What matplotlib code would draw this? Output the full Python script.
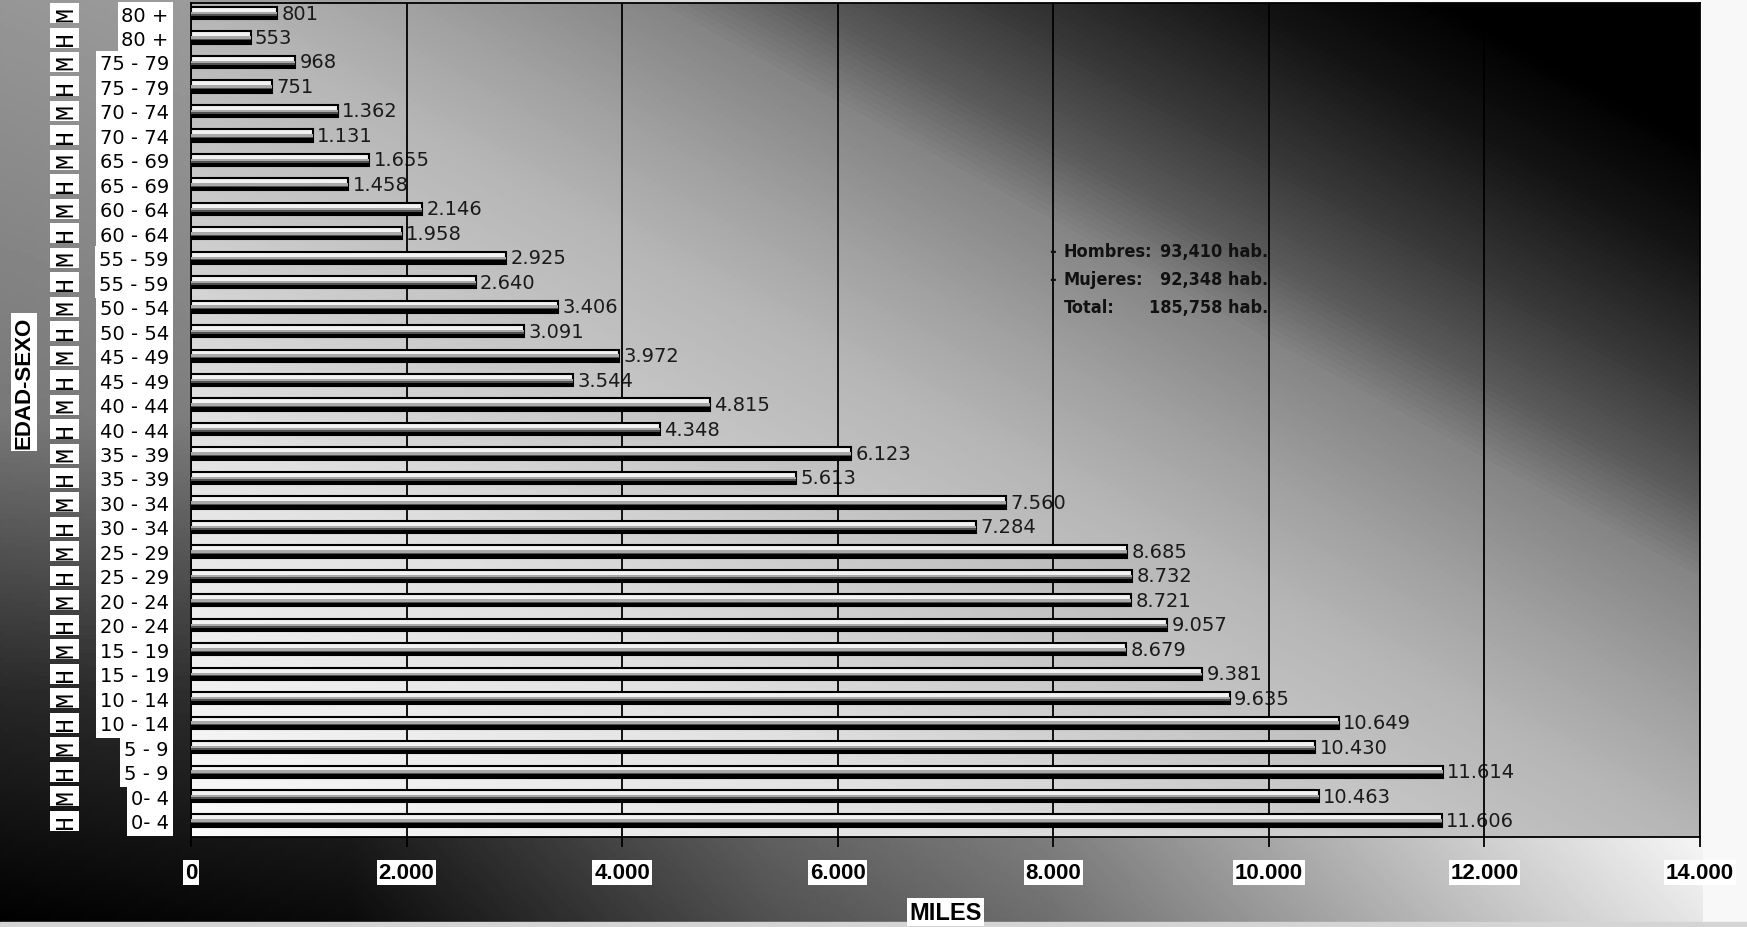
import numpy as np
import matplotlib
matplotlib.use("Agg")
import matplotlib.pyplot as plt
import matplotlib.transforms as mtransforms
from matplotlib import font_manager
from matplotlib.colors import LinearSegmentedColormap

plt.rcParams["font.family"] = ["Liberation Sans", "DejaVu Sans"]

# fuente estrecha para el cuadro resumen, si existe
_fonts = font_manager.fontManager.ttflist
if any(f.name == "Liberation Sans Narrow" for f in _fonts):
    RES_FONT = dict(family="Liberation Sans Narrow", fontsize=17)
elif any(f.name == "DejaVu Sans" and str(f.stretch) == "condensed" and f.weight in (700, "bold") for f in _fonts):
    RES_FONT = dict(family="DejaVu Sans", fontstretch="condensed", fontsize=13)
else:
    RES_FONT = dict(family="Liberation Sans", fontsize=13)

# datos (de 0-4 hacia 80+)
grupos = ["0- 4", "5 - 9", "10 - 14", "15 - 19", "20 - 24", "25 - 29", "30 - 34", "35 - 39",
          "40 - 44", "45 - 49", "50 - 54", "55 - 59", "60 - 64", "65 - 69", "70 - 74",
          "75 - 79", "80 +"]
hombres = [11606, 11614, 10649, 9381, 9057, 8732, 7284, 5613, 4348, 3544, 3091, 2640,
           1958, 1458, 1131, 751, 553]
mujeres = [10463, 10430, 9635, 8679, 8721, 8685, 7560, 6123, 4815, 3972, 3406, 2925,
           2146, 1655, 1362, 968, 801]
resumen_lbl = ["Hombres:", "Mujeres:", "Total:"]
resumen_val = ["93,410 hab.", "92,348 hab.", "185,758 hab."]
xticks = [0, 2000, 4000, 6000, 8000, 10000, 12000, 14000]

etiquetas, sexo, valores = [], [], []
for g, h, m in zip(grupos, hombres, mujeres):
    etiquetas += [g, g]
    sexo += ["H", "M"]
    valores += [h, m]
y = np.arange(len(valores))


def miles(v):
    return f"{v:,}".replace(",", ".")


W, H = 1747, 928
fig = plt.figure(figsize=(W / 100, H / 100), dpi=100)

# fondo de la figura
u = np.linspace(0, 1, 400)
v = np.linspace(0, 1, 200)
bu = np.interp(u, [0, 0.2, 0.44, 0.6, 0.86, 0.975, 1], [0, 10, 80, 110, 195, 230, 250])
lv = np.interp(v, [0, 0.25, 0.55, 1], [0, 40, 120, 150])
bg = np.clip(bu[None, :] + lv[:, None], 0, 250)
bg[:, u > 0.975] = 248
bgax = fig.add_axes([0, 0, 1, 1], zorder=-10)
bgax.imshow(bg, extent=[0, 1, 0, 1], aspect="auto", cmap="gray", vmin=0, vmax=255, origin="lower")
bgax.add_patch(plt.Rectangle((0, 0), 1, 5 / H, color="#d4d4d4"))
bgax.axis("off")

x0, x1 = 191 / W, 1700 / W
y0, y1 = (H - 838) / H, (H - 4) / H
ax = fig.add_axes([x0, y0, x1 - x0, y1 - y0])
ylo, yhi = -0.67, 33.41

# fondo del area de trazado (oscuro arriba a la derecha)
cmap = LinearSegmentedColormap.from_list("fondo", [
    (0, "#000000"), (0.08, "#000000"), (0.15, "#141414"), (0.23, "#373737"), (0.295, "#5a5a5a"),
    (0.345, "#858585"), (0.43, "#a2a2a2"), (0.5, "#b6b6b6"), (0.75, "#e1e1e1"), (1, "#fafafa")])
uu, vv = np.meshgrid(np.linspace(0, 1, 300), np.linspace(0, 1, 200))
t = ((1 - uu) + (1 - vv)) / 2
ax.imshow(t, extent=[0, 14000, ylo, yhi], aspect="auto", cmap=cmap, vmin=0, vmax=1,
          origin="lower", zorder=0, interpolation="bicubic")

# barras "cilindricas"
ax.barh(y, valores, height=0.5, color="#f2f2f2", edgecolor="black", linewidth=1.5, zorder=3)
ax.barh(y + 0.0, valores, height=0.1, color="#a8a8a8", linewidth=0, zorder=4)
ax.barh(y - 0.08, valores, height=0.06, color="#505050", linewidth=0, zorder=4)
ax.barh(y - 0.18, valores, height=0.14, color="black", linewidth=0, zorder=4)

for yi, val in zip(y, valores):
    ax.text(val + 40, yi, miles(val), va="center", ha="left", fontsize=14,
            family="DejaVu Sans", color="#1a1a1a", zorder=2)

ax.set_xlim(0, 14000)
ax.set_ylim(ylo, yhi)
ax.set_xticks(xticks, labels=[miles(t) for t in xticks])
ax.set_yticks(y, labels=etiquetas)
ax.tick_params(axis="y", length=0, pad=16)
ax.tick_params(axis="x", length=7, width=1.3, pad=11, labelsize=16, direction="out", color="black")
for lbl in ax.get_yticklabels():
    lbl.set_fontfamily("DejaVu Sans")
    lbl.set_fontsize(14)
    lbl.set_bbox(dict(boxstyle="square,pad=0.2", fc="white", ec="none"))
for lbl in ax.get_xticklabels():
    lbl.set_fontweight("bold")
    lbl.set_bbox(dict(boxstyle="square,pad=0.08", fc="white", ec="none"))

ax.set_axisbelow(False)
ax.grid(axis="x", color="black", linewidth=1.3)
ax.grid(axis="y", visible=False)
for s in ax.spines.values():
    s.set_color("black")
    s.set_linewidth(1.3)

# H / M
trans = mtransforms.blended_transform_factory(ax.transAxes, ax.transData)
for yi, s in zip(y, sexo):
    ax.text((65 - 191) / 1508, yi, s, rotation=90, ha="center", va="center", fontsize=18,
            family="Liberation Mono", transform=trans, clip_on=False,
            bbox=dict(boxstyle="square,pad=0.1", fc="white", ec="none"))

ax.text((24 - 191) / 1508, 0.5456, "EDAD-SEXO", rotation=90, ha="center", va="center",
        fontsize=16, fontweight="bold", transform=ax.transAxes,
        bbox=dict(boxstyle="square,pad=0.12", fc="white", ec="none"))
ax.text(0.5, -0.09, "MILES", ha="center", va="center", fontsize=17, fontweight="bold",
        transform=ax.transAxes, bbox=dict(boxstyle="square,pad=0.1", fc="white", ec="none"))

# resumen
for i, (lb, vl) in enumerate(zip(resumen_lbl, resumen_val)):
    yy = 23.28 - 1.14 * i
    if i < 2:
        ax.text(7990, yy, "-", ha="center", va="center", fontweight="bold",
                color="#111111", zorder=5, **RES_FONT)
    ax.text(8096, yy, lb, ha="left", va="center", fontweight="bold",
            color="#111111", zorder=5, **RES_FONT)
    ax.text(9990, yy, vl, ha="right", va="center", fontweight="bold",
            color="#111111", zorder=5, **RES_FONT)

fig.savefig("out.png", dpi=100)
